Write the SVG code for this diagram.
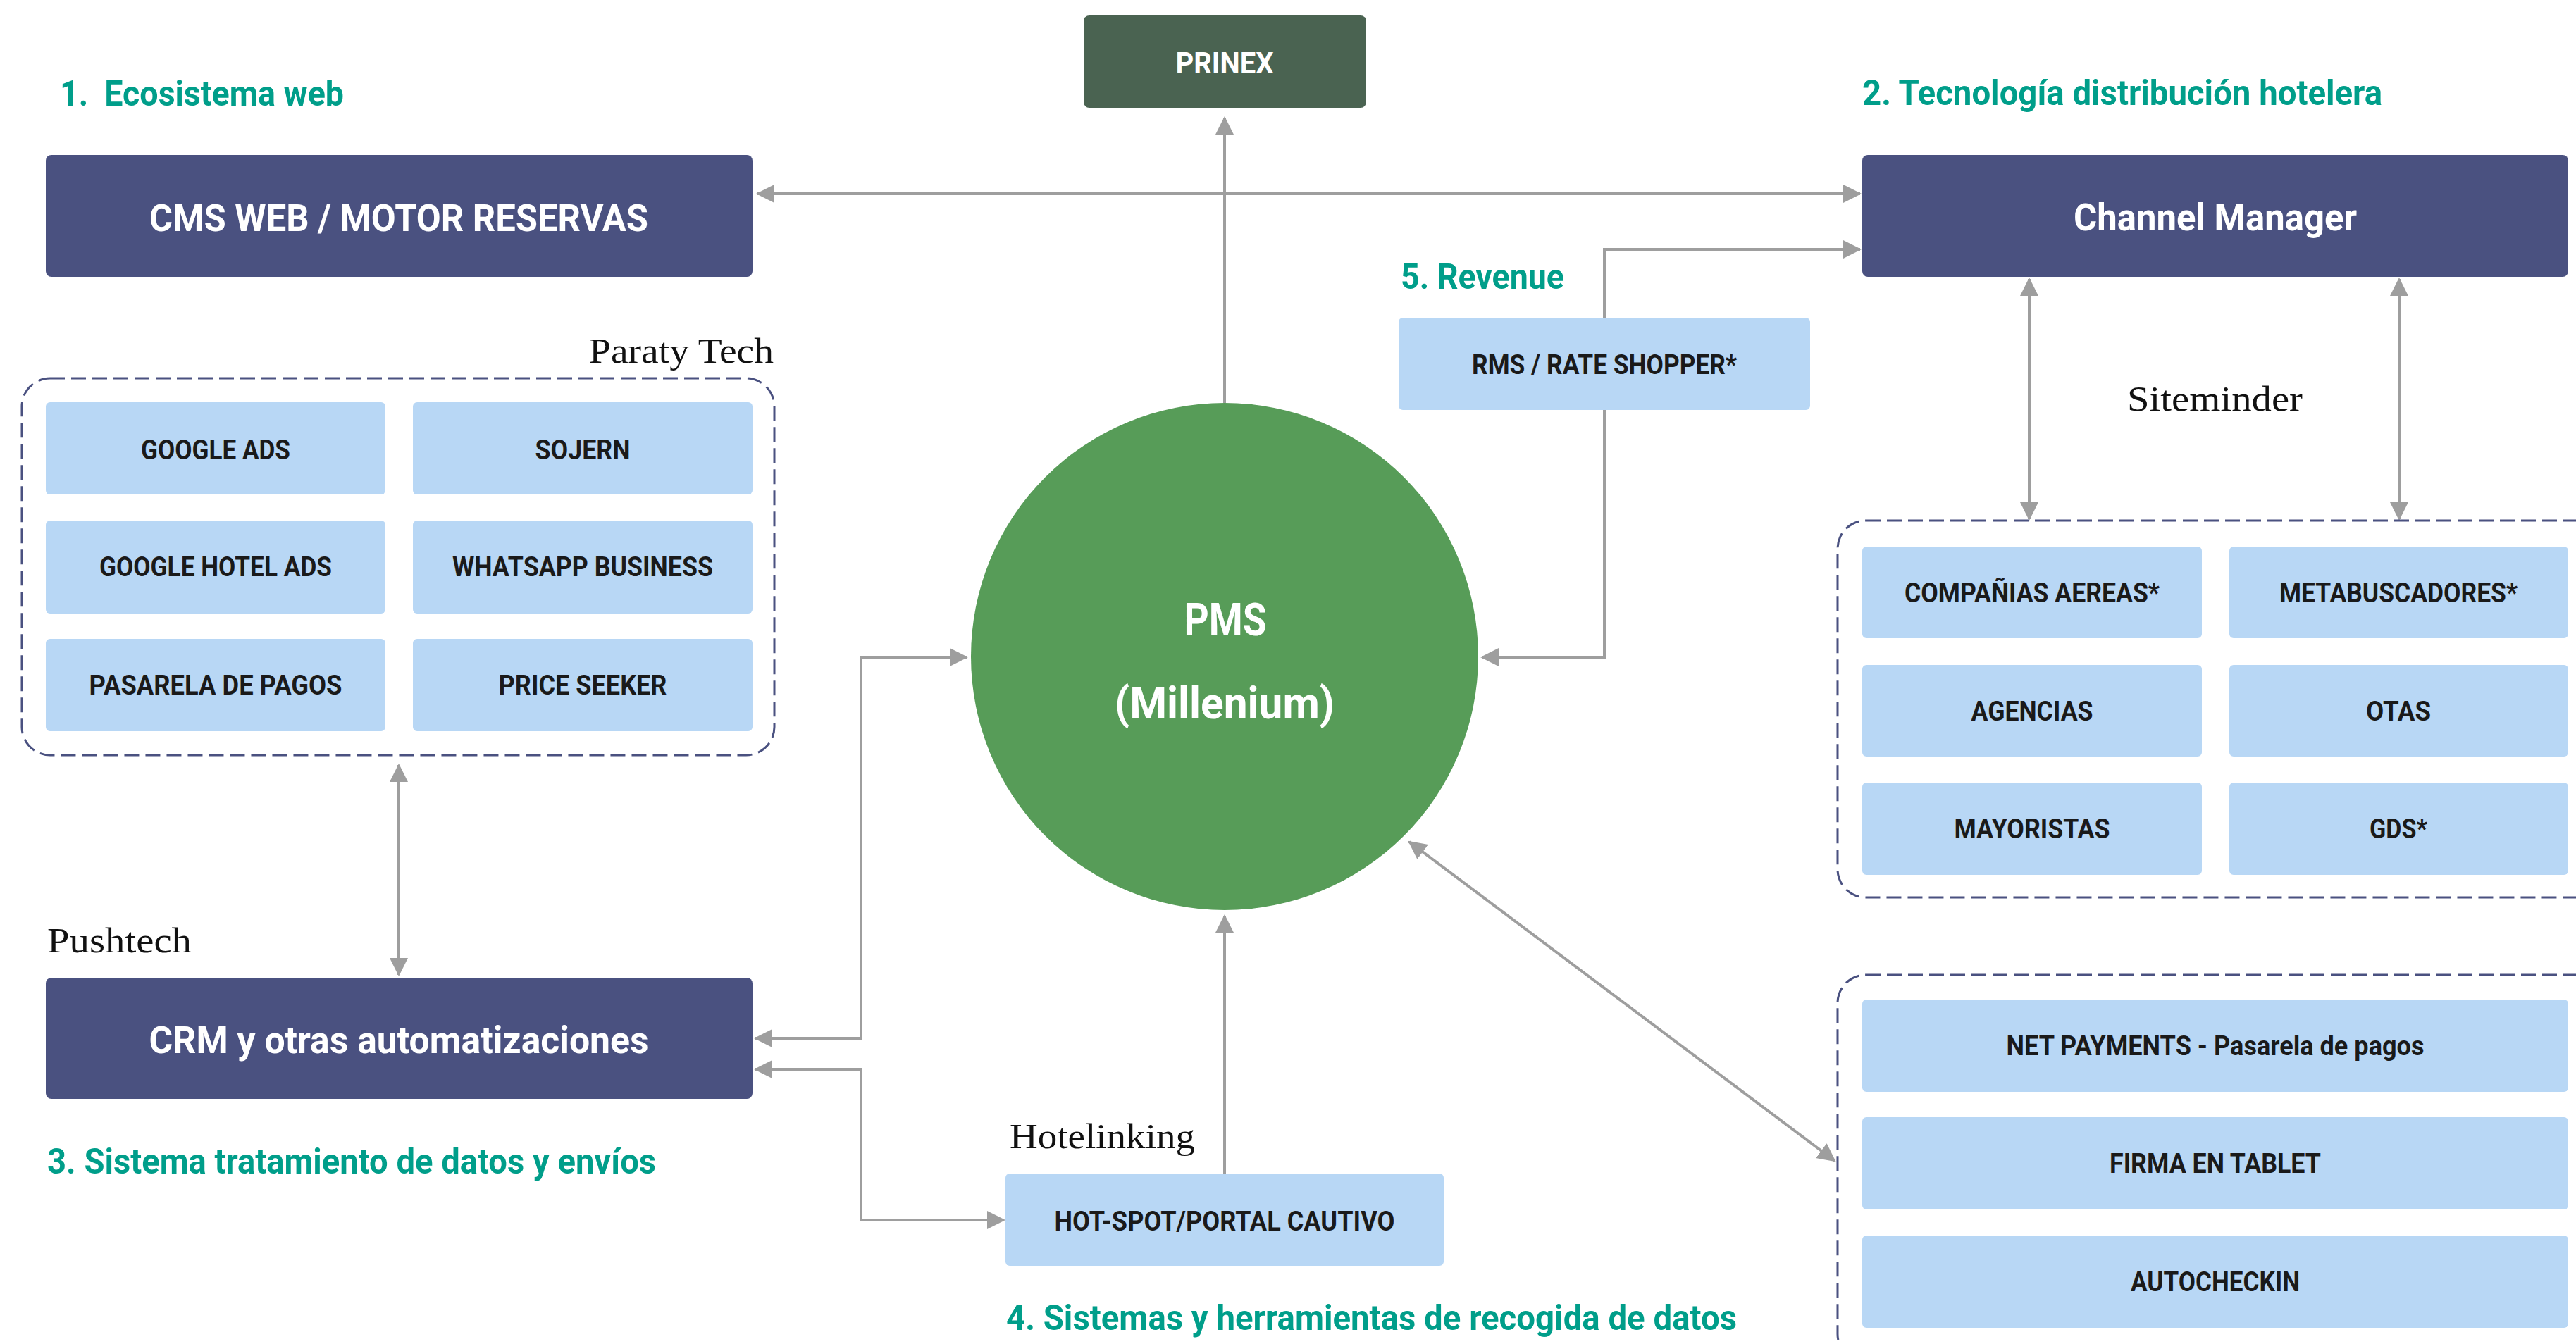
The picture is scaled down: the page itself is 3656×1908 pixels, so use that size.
<svg xmlns="http://www.w3.org/2000/svg" width="3656" height="1908" viewBox="0 0 3656 1908">
<defs>
<style>
.bg{fill:#ffffff}
.dark{fill:#4a5180}
.light{fill:#b8d7f5}
.grp{fill:none;stroke:#4a5180;stroke-width:3;stroke-dasharray:21 9}
.con{fill:none;stroke:#9e9e9e;stroke-width:4}
.title{font-family:Roboto,"Liberation Sans",sans-serif;font-weight:700;font-size:50px;fill:#009e8a}
.serif{font-family:"Liberation Serif","DejaVu Serif",serif;font-size:51px;fill:#111111}
.wt{font-family:Roboto,"Liberation Sans",sans-serif;font-weight:700;font-size:53px;fill:#ffffff;text-anchor:middle}
.bt{font-family:Roboto,"Liberation Sans",sans-serif;font-weight:700;font-size:38px;fill:#1a1a1a;text-anchor:middle}
</style>
<marker id="ah" viewBox="0 0 26 26" markerWidth="26" markerHeight="26" refX="24" refY="13" orient="auto-start-reverse" markerUnits="userSpaceOnUse">
<path d="M0,0 L26,13 L0,26 z" fill="#9e9e9e"/>
</marker>
</defs>
<rect class="bg" x="0" y="0" width="3656" height="1908"/>

<g id="connectors">
<line class="con" x1="1075" y1="275" x2="2640" y2="275" marker-start="url(#ah)" marker-end="url(#ah)"/>
<line class="con" x1="1738" y1="572" x2="1738" y2="167" marker-end="url(#ah)"/>
<polyline class="con" points="2277,451 2277,354 2640,354" marker-end="url(#ah)"/>
<polyline class="con" points="2277,582 2277,933 2103,933" marker-end="url(#ah)"/>
<line class="con" x1="2880" y1="396" x2="2880" y2="737" marker-start="url(#ah)" marker-end="url(#ah)"/>
<line class="con" x1="3405" y1="396" x2="3405" y2="737" marker-start="url(#ah)" marker-end="url(#ah)"/>
<line class="con" x1="566" y1="1086" x2="566" y2="1384" marker-start="url(#ah)" marker-end="url(#ah)"/>
<polyline class="con" points="1372,933 1222,933 1222,1474 1072,1474" marker-start="url(#ah)" marker-end="url(#ah)"/>
<polyline class="con" points="1072,1518 1222,1518 1222,1732 1425,1732" marker-start="url(#ah)" marker-end="url(#ah)"/>
<line class="con" x1="1738" y1="1666" x2="1738" y2="1300" marker-end="url(#ah)"/>
<line class="con" x1="2000" y1="1195" x2="2604" y2="1648" marker-start="url(#ah)" marker-end="url(#ah)"/>
</g>

<g id="titles">
<text class="title" x="85" y="150" textLength="403" lengthAdjust="spacingAndGlyphs" xml:space="preserve">1.  Ecosistema web</text>
<text class="title" x="2643" y="149" textLength="738" lengthAdjust="spacingAndGlyphs">2. Tecnología distribución hotelera</text>
<text class="title" x="67" y="1666" textLength="864" lengthAdjust="spacingAndGlyphs">3. Sistema tratamiento de datos y envíos</text>
<text class="title" x="1428" y="1888" textLength="1037" lengthAdjust="spacingAndGlyphs">4. Sistemas y herramientas de recogida de datos</text>
<text class="title" x="1988" y="410" textLength="232" lengthAdjust="spacingAndGlyphs">5. Revenue</text>
</g>

<g id="labels">
<text class="serif" x="836" y="515" textLength="262" lengthAdjust="spacingAndGlyphs">Paraty Tech</text>
<text class="serif" x="3019" y="583" textLength="249" lengthAdjust="spacingAndGlyphs">Siteminder</text>
<text class="serif" x="67" y="1352" textLength="205" lengthAdjust="spacingAndGlyphs">Pushtech</text>
<text class="serif" x="1433" y="1630" textLength="263" lengthAdjust="spacingAndGlyphs">Hotelinking</text>
</g>

<g id="prinex">
<rect x="1538" y="22" width="401" height="131" rx="8" fill="#4a6351"/>
<text class="wt" x="1738" y="104" style="font-size:43px" textLength="139" lengthAdjust="spacingAndGlyphs">PRINEX</text>
</g>

<g id="cms">
<rect class="dark" x="65" y="220" width="1003" height="173" rx="8"/>
<text class="wt" x="566" y="328" textLength="708" lengthAdjust="spacingAndGlyphs">CMS WEB / MOTOR RESERVAS</text>
</g>

<g id="channel-manager">
<rect class="dark" x="2643" y="220" width="1002" height="173" rx="8"/>
<text class="wt" x="3144" y="327" textLength="402" lengthAdjust="spacingAndGlyphs">Channel Manager</text>
</g>

<g id="crm">
<rect class="dark" x="65" y="1388" width="1003" height="172" rx="8"/>
<text class="wt" x="566" y="1495" textLength="709" lengthAdjust="spacingAndGlyphs">CRM y otras automatizaciones</text>
</g>

<g id="pms">
<circle cx="1738" cy="932" r="360" fill="#579c58"/>
<text class="wt" x="1739" y="902" style="font-size:64px" textLength="117" lengthAdjust="spacingAndGlyphs">PMS</text>
<text class="wt" x="1738" y="1020" style="font-size:63px" textLength="312" lengthAdjust="spacingAndGlyphs">(Millenium)</text>
</g>

<g id="rms">
<rect class="light" x="1985" y="451" width="584" height="131" rx="6"/>
<text class="bt" x="2277" y="531" textLength="376" lengthAdjust="spacingAndGlyphs">RMS / RATE SHOPPER*</text>
</g>

<g id="paraty-group">
<rect class="grp" x="31" y="537" width="1068" height="535" rx="40"/>
</g>
<g id="google-ads">
<rect class="light" x="65" y="571" width="482" height="131" rx="6"/>
<text class="bt" x="306" y="652" textLength="212" lengthAdjust="spacingAndGlyphs">GOOGLE ADS</text>
</g>
<g id="sojern">
<rect class="light" x="586" y="571" width="482" height="131" rx="6"/>
<text class="bt" x="827" y="652" textLength="135" lengthAdjust="spacingAndGlyphs">SOJERN</text>
</g>
<g id="google-hotel-ads">
<rect class="light" x="65" y="739" width="482" height="132" rx="6"/>
<text class="bt" x="306" y="818" textLength="330" lengthAdjust="spacingAndGlyphs">GOOGLE HOTEL ADS</text>
</g>
<g id="whatsapp-business">
<rect class="light" x="586" y="739" width="482" height="132" rx="6"/>
<text class="bt" x="827" y="818" textLength="370" lengthAdjust="spacingAndGlyphs">WHATSAPP BUSINESS</text>
</g>
<g id="pasarela-de-pagos">
<rect class="light" x="65" y="907" width="482" height="131" rx="6"/>
<text class="bt" x="306" y="986" textLength="359" lengthAdjust="spacingAndGlyphs">PASARELA DE PAGOS</text>
</g>
<g id="price-seeker">
<rect class="light" x="586" y="907" width="482" height="131" rx="6"/>
<text class="bt" x="827" y="986" textLength="239" lengthAdjust="spacingAndGlyphs">PRICE SEEKER</text>
</g>

<g id="hotspot">
<rect class="light" x="1427" y="1666" width="622" height="131" rx="6"/>
<text class="bt" x="1738" y="1747" textLength="483" lengthAdjust="spacingAndGlyphs">HOT-SPOT/PORTAL CAUTIVO</text>
</g>

<g id="siteminder-group">
<rect class="grp" x="2608" y="739" width="1090" height="535" rx="40"/>
</g>
<g id="companias-aereas">
<rect class="light" x="2643" y="776" width="482" height="130" rx="6"/>
<text class="bt" x="2884" y="855" textLength="362" lengthAdjust="spacingAndGlyphs">COMPAÑIAS AEREAS*</text>
</g>
<g id="metabuscadores">
<rect class="light" x="3164" y="776" width="481" height="130" rx="6"/>
<text class="bt" x="3404" y="855" textLength="338" lengthAdjust="spacingAndGlyphs">METABUSCADORES*</text>
</g>
<g id="agencias">
<rect class="light" x="2643" y="944" width="482" height="130" rx="6"/>
<text class="bt" x="2884" y="1023" textLength="173" lengthAdjust="spacingAndGlyphs">AGENCIAS</text>
</g>
<g id="otas">
<rect class="light" x="3164" y="944" width="481" height="130" rx="6"/>
<text class="bt" x="3404" y="1023" textLength="92" lengthAdjust="spacingAndGlyphs">OTAS</text>
</g>
<g id="mayoristas">
<rect class="light" x="2643" y="1111" width="482" height="131" rx="6"/>
<text class="bt" x="2884" y="1190" textLength="221" lengthAdjust="spacingAndGlyphs">MAYORISTAS</text>
</g>
<g id="gds">
<rect class="light" x="3164" y="1111" width="481" height="131" rx="6"/>
<text class="bt" x="3404" y="1190" textLength="82" lengthAdjust="spacingAndGlyphs">GDS*</text>
</g>

<g id="payments-group">
<rect class="grp" x="2608" y="1384" width="1090" height="550" rx="40"/>
</g>
<g id="net-payments">
<rect class="light" x="2643" y="1419" width="1002" height="131" rx="6"/>
<text class="bt" x="3144" y="1498" textLength="593" lengthAdjust="spacingAndGlyphs">NET PAYMENTS - Pasarela de pagos</text>
</g>
<g id="firma-tablet">
<rect class="light" x="2643" y="1586" width="1002" height="131" rx="6"/>
<text class="bt" x="3144" y="1665" textLength="300" lengthAdjust="spacingAndGlyphs">FIRMA EN TABLET</text>
</g>
<g id="autocheckin">
<rect class="light" x="2643" y="1754" width="1002" height="131" rx="6"/>
<text class="bt" x="3144" y="1833" textLength="240" lengthAdjust="spacingAndGlyphs">AUTOCHECKIN</text>
</g>
</svg>
